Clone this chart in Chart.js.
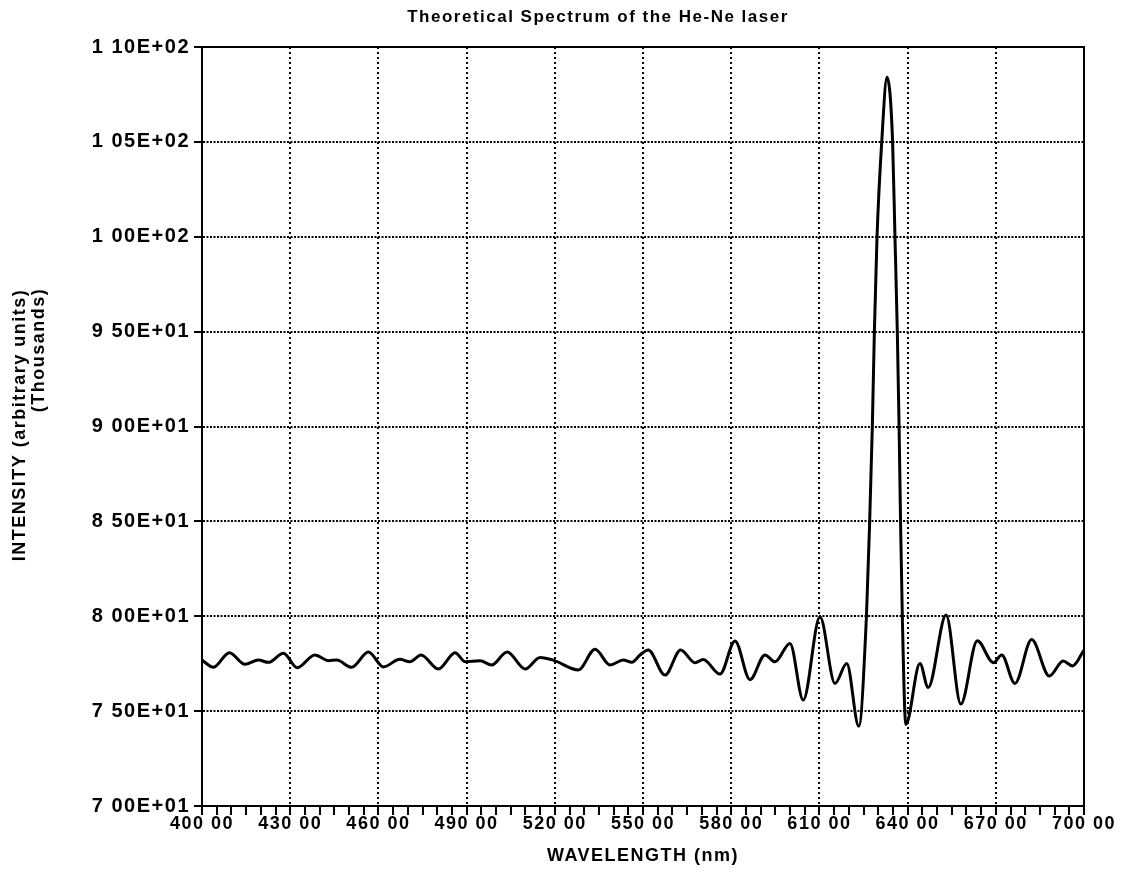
<!DOCTYPE html>
<html>
<head>
<meta charset="utf-8">
<script src="https://cdn.jsdelivr.net/npm/chart.js@4.4.0/dist/chart.umd.min.js"></script>
<style>
  html, body { margin: 0; padding: 0; background: #fff; }
</style>
</head>
<body>
<canvas id="chart" width="1126" height="875"></canvas>
<script>
// points: wavelength (nm) and intensity (thousands)
const wavelength = [400, 403.9, 409.3, 414.6, 419.2, 422.6, 427.7, 432.4, 438.4, 443, 445.8, 450.9,
  456.6, 461.7, 467.3, 470.7, 474.5, 480.4, 486.1, 489.5, 494.6, 498.5, 503.8, 509.9, 515, 519.5,
  528, 533.7, 538.8, 543.3, 546.2, 549, 551.8, 557.5, 562.8, 567.7, 570.5, 576.2, 581.3, 586.4,
  591.5, 594.9, 600, 604.5, 610.2, 615.3, 619.3, 623.4, 626, 627.1, 628, 628.7, 629.6, 631.2, 633,
  634.9, 635.7, 636.5, 637.1, 637.6, 638.2, 639.4, 644.2, 647, 653.1, 658.1, 663.7, 669.2, 672,
  676.5, 682.2, 688.2, 692.9, 696.1, 700];
const intensity = [77.69, 77.31, 78.08, 77.47, 77.69, 77.57, 78.05, 77.29, 77.96, 77.66, 77.69, 77.31,
  78.12, 77.33, 77.73, 77.6, 77.96, 77.22, 78.08, 77.6, 77.65, 77.43, 78.12, 77.22, 77.83, 77.69,
  77.17, 78.26, 77.43, 77.69, 77.57, 77.96, 78.22, 76.9, 78.22, 77.55, 77.72, 76.95, 78.7, 76.66,
  77.96, 77.6, 78.57, 75.58, 79.97, 76.46, 77.51, 74.2, 80, 85, 90, 95, 100, 105, 108.4,
  105, 100, 95, 90, 85, 80, 74.3, 77.51, 76.24, 80.06, 75.37, 78.71, 77.55, 77.96,
  76.46, 78.77, 76.85, 77.64, 77.38, 78.22];

const xTickValues = [400, 430, 460, 490, 520, 550, 580, 610, 640, 670, 700];
const xTickLabels = ['400 00', '430 00', '460 00', '490 00', '520 00', '550 00', '580 00', '610 00', '640 00', '670 00', '700 00'];
const yTickValues = [70, 75, 80, 85, 90, 95, 100, 105, 110];
const yTickLabels = ['7 00E+01', '7 50E+01', '8 00E+01', '8 50E+01', '9 00E+01', '9 50E+01', '1 00E+02', '1 05E+02', '1 10E+02'];

const titleText = 'Theoretical Spectrum of the He-Ne laser';
const xTitle = 'WAVELENGTH (nm)';
const yTitle = ['INTENSITY (arbitrary units)', '(Thousands)'];

const FONT = '"Liberation Sans", Arial, sans-serif';
Chart.defaults.font.family = FONT;
Chart.defaults.font.weight = 'bold';
Chart.defaults.color = '#000';

// the scan has wide lettering, so spread the glyphs a little
const spacing = {
  id: 'spacing',
  beforeUpdate(chart) { chart.ctx.letterSpacing = '1.5px'; },
  beforeDraw(chart) { chart.ctx.letterSpacing = '1.5px'; }
};

// frame, title and the two-line y title
const extras = {
  id: 'extras',
  afterDraw(chart) {
    const { ctx, chartArea: a } = chart;
    ctx.save();
    ctx.lineWidth = 2;
    ctx.strokeStyle = '#000';
    ctx.strokeRect(a.left, a.top, a.right - a.left, a.bottom - a.top);
    ctx.fillStyle = '#000';
    ctx.textAlign = 'center';
    ctx.textBaseline = 'middle';
    ctx.font = 'bold 17px ' + FONT;
    ctx.fillText(titleText, 598, 17);
    ctx.font = 'bold 18px ' + FONT;
    ctx.save();
    ctx.translate(20, 425);
    ctx.rotate(-Math.PI / 2);
    ctx.fillText(yTitle[0], 0, 0);
    ctx.restore();
    ctx.save();
    ctx.translate(39, 350);
    ctx.rotate(-Math.PI / 2);
    ctx.fillText(yTitle[1], 0, 0);
    ctx.restore();
    ctx.restore();
  }
};

const isInnerX = v => { const r = Math.round(v); return (r - 400) % 30 === 0 && r > 400 && r < 700; };
const isInnerY = v => { const r = Math.round(v); return r > 70 && r < 110; };

new Chart(document.getElementById('chart'), {
  type: 'line',
  data: {
    datasets: [{
      data: wavelength.map((w, i) => ({ x: w, y: intensity[i] })),
      borderColor: '#000',
      borderWidth: 3,
      pointRadius: 0,
      fill: false,
      cubicInterpolationMode: 'monotone'
    }]
  },
  options: {
    responsive: false,
    animation: false,
    layout: { padding: { top: 47, right: 42, left: 0, bottom: 0 } },
    plugins: { legend: { display: false }, tooltip: { enabled: false } },
    scales: {
      x: {
        type: 'linear',
        min: 400,
        max: 700,
        afterFit(s) { s.height = 69; },
        ticks: {
          stepSize: 5,
          maxTicksLimit: 100,
          autoSkip: false,
          maxRotation: 0,
          minRotation: 0,
          padding: -2,
          font: { size: 18 },
          callback(v) {
            const i = xTickValues.indexOf(Math.round(v));
            return i >= 0 ? xTickLabels[i] : '';
          }
        },
        grid: {
          color: c => (c.tick && isInnerX(c.tick.value)) ? '#000' : 'rgba(0,0,0,0)',
          lineWidth: 2,
          tickColor: '#000',
          tickLength: 9,
          tickWidth: 2
        },
        border: { color: '#000', width: 2, dash: [2, 3] },
        title: {
          display: true,
          text: xTitle,
          font: { size: 18 },
          padding: { top: 0, bottom: 8 }
        }
      },
      y: {
        min: 70,
        max: 110,
        afterFit(s) { s.width = 202; },
        ticks: {
          stepSize: 5,
          padding: 4,
          font: { size: 20 },
          callback(v) {
            const i = yTickValues.indexOf(Math.round(v));
            return i >= 0 ? yTickLabels[i] : '';
          }
        },
        grid: {
          color: c => (c.tick && isInnerY(c.tick.value)) ? '#000' : 'rgba(0,0,0,0)',
          lineWidth: 2,
          tickColor: '#000',
          tickLength: 8,
          tickWidth: 2
        },
        border: { color: '#000', width: 2, dash: [2, 1.5] }
      }
    }
  },
  plugins: [spacing, extras]
});
</script>
</body>
</html>
